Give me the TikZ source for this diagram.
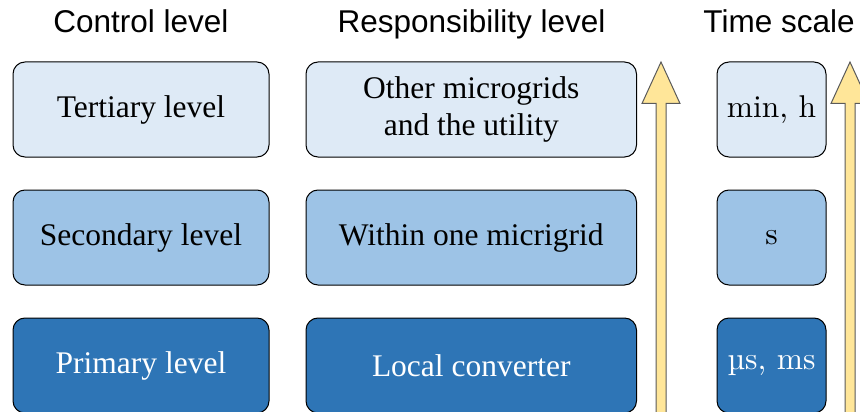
\documentclass[tikz,border=0pt]{standalone}
\usepackage{fontspec}
\newfontfamily\headfont{Liberation Sans}
\newfontfamily\boxfont{Liberation Serif}
\newfontfamily\unitfont{lmroman10-regular}[Extension=.otf]
\definecolor{tierlight}{HTML}{DEEAF6}
\definecolor{tiermid}{HTML}{9DC3E6}
\definecolor{tierdark}{HTML}{2E75B6}
\definecolor{arrowfill}{HTML}{FFE699}
\definecolor{arrowline}{HTML}{5A5A5A}
\begin{document}
\begin{tikzpicture}[x=1pt,y=-1pt,
  heading/.style={font=\headfont\fontsize{31.5}{37.8}\selectfont, anchor=base, inner sep=0pt},
  level/.style={draw=black, line width=1pt, rounded corners=12pt, minimum height=95pt,
    inner sep=0pt, align=center, font=\boxfont\fontsize{31.5}{37.8}\selectfont},
  timebox/.style={level, minimum width=109pt, font=\unitfont\fontsize{31.5}{37.8}\selectfont},
  ctrlbox/.style={level, minimum width=256pt},
  respbox/.style={level, minimum width=330.5pt},
  light/.style={fill=tierlight, text=black},
  mid/.style={fill=tiermid, text=black},
  dark/.style={fill=tierdark, text=white},
  bigarrow/.style={fill=arrowfill, draw=arrowline, line width=1pt, line join=miter}
]
\useasboundingbox (0,0) rectangle (860,412);

% column headings
\node[heading] (hctrl) at (141,33) {Control level};
\node[heading] (hresp) at (471.5,33) {Responsibility level};
\node[heading] (htime) at (779,33) {Time scale};

% control level column
\node[ctrlbox, light] (ct) at (141,109.5) {Tertiary level};
\node[ctrlbox, mid]   (cs) at (141,237.5) {Secondary level};
\node[ctrlbox, dark]  (cp) at (141,365.5) {Primary level};

% responsibility column
\node[respbox, light] (rt) at (471.25,109.5) {Other microgrids\\and the utility};
\node[respbox, mid]   (rs) at (471.25,237.5) {Within one micrigrid};
\node[respbox, dark]  (rp) at (471.25,365.5) {Local converter};

% time scale column
\node[timebox, light] (tt) at (771.5,109.5) {min, h};
\node[timebox, mid]   (ts) at (771.5,237.5) {s};
\node[timebox, dark]  (tp) at (771.5,365.5) {\textmu s, ms};

% upward arrows
\draw[bigarrow] (661,62) -- (680,103.5) -- (666,103.5) -- (666,425) -- (656,425)
  -- (656,103.5) -- (642,103.5) -- cycle;
\draw[bigarrow] (850,62) -- (869,103.5) -- (855,103.5) -- (855,425) -- (845,425)
  -- (845,103.5) -- (831,103.5) -- cycle;
\end{tikzpicture}
\end{document}
